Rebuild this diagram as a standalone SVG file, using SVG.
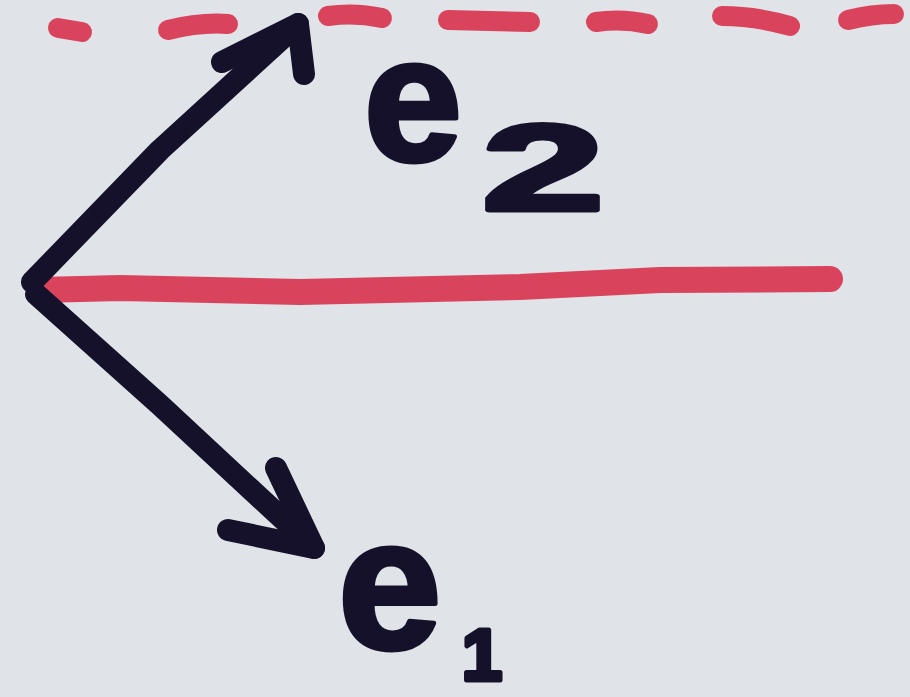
<svg xmlns="http://www.w3.org/2000/svg" width="910" height="697" viewBox="0 0 910 697">
  <style>
    .ink{fill:none;stroke:#15112b;stroke-width:22;stroke-linecap:round;stroke-linejoin:round}
    .red{fill:none;stroke:#d9435c;stroke-linecap:round}
    .lbl{font-family:"Liberation Sans",Arial,sans-serif;font-weight:bold;fill:#15112b;stroke:#15112b;stroke-width:5;stroke-linejoin:round}
  </style>
  <rect width="910" height="697" fill="#e0e3e7"/>
  <g id="dashed-line" class="red" stroke-width="20">
    <path d="M58,28 L82,32"/>
    <path d="M168,30 Q200,22 228,24"/>
    <path d="M328,16 Q355,12 382,18"/>
    <path d="M448,20 L530,22"/>
    <path d="M596,22 Q622,18 648,24"/>
    <path d="M722,16 Q755,16 790,26"/>
    <path d="M848,20 Q872,14 894,14"/>
  </g>
  <g id="solid-line" class="red" stroke-width="26">
    <path d="M40,290 L120,288 L300,292 L520,287 L660,280 L830,279"/>
  </g>
  <g id="connectors">
    <g id="arrow-e2" class="ink">
      <path d="M32,282 L160,150 L298,24"/>
      <path d="M222,62 L298,24 L304,74"/>
    </g>
    <g id="arrow-e1" class="ink">
      <path d="M36,294 L160,405 L314,548"/>
      <path d="M228,530 L314,548 L276,468"/>
    </g>
  </g>
  <g id="label-e2">
    <text class="lbl" x="364" y="160" font-size="176">e</text>
    <text class="lbl" font-size="122" transform="translate(482,210) scale(1.8,1)">2</text>
  </g>
  <g id="label-e1">
    <text class="lbl" x="338" y="648" font-size="186">e</text>
    <text class="lbl" x="462" y="680" font-size="72">1</text>
  </g>
</svg>
